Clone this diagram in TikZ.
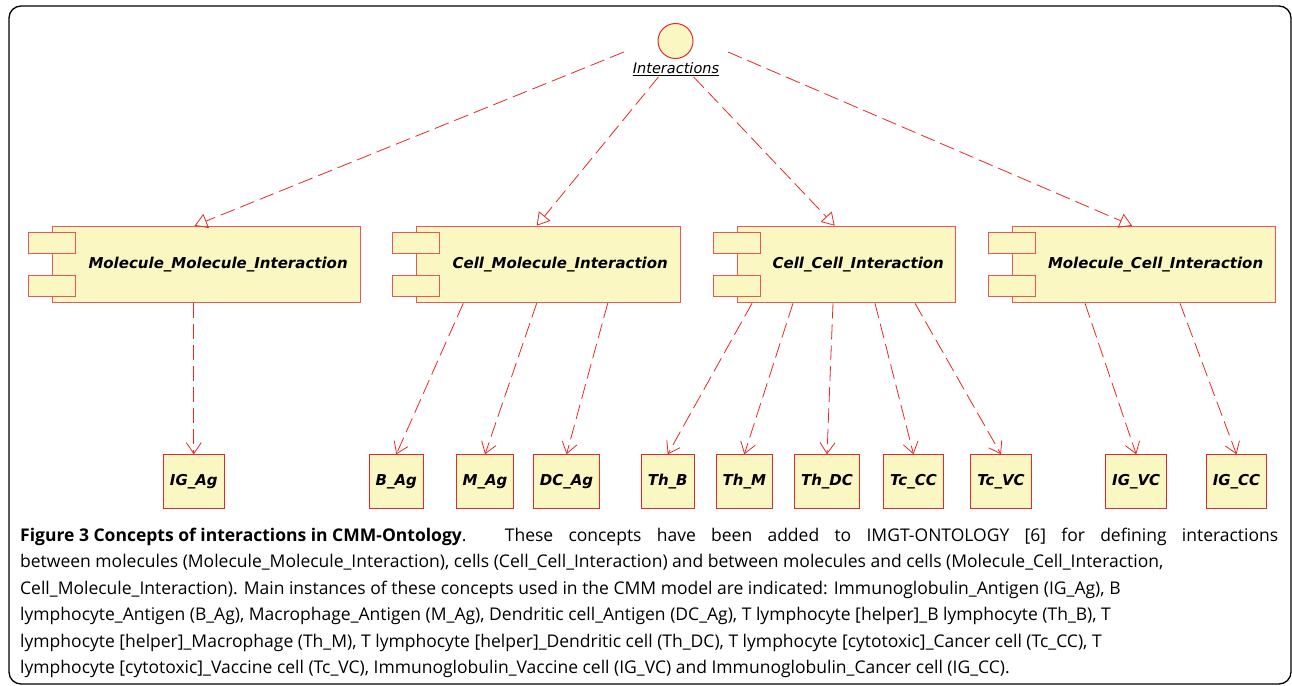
\documentclass[tikz,border=0pt]{standalone}
\usepackage{fontspec}
\setmainfont{Open Sans}
\newfontfamily\umlfont{DejaVu Sans}
\usetikzlibrary{arrows.meta, positioning, calc}
\definecolor{umlfill}{RGB}{250,247,195}
\definecolor{umlline}{RGB}{236,86,86}
\definecolor{umlred}{RGB}{232,40,40}

\begin{document}
\begin{tikzpicture}[x=1pt, y=-1pt,
  comp/.style={draw=umlline, fill=umlfill, line width=1pt, minimum height=76.6pt, anchor=north west, inner sep=0pt, font=\umlfont\bfseries\itshape\fontsize{15}{18}\selectfont},
  tab/.style={draw=umlline, fill=umlfill, line width=1pt},
  inst/.style={draw=umlred, fill=umlfill, line width=1pt, minimum height=54pt, inner xsep=6.5pt, anchor=north, font=\umlfont\bfseries\itshape\fontsize{15}{18}\selectfont},
  dep/.style={draw=umlred, line width=0.8pt, dash pattern=on 15pt off 6pt},
  real/.style={dep, -{Triangle[open, length=12.5pt, width=15pt]}},
  use/.style={dep, -{Straight Barb[length=11pt, width=15pt]}}]
\useasboundingbox (0,0) rectangle (1292,685);
\draw[line width=1.3pt, rounded corners=12pt] (9,6) rectangle (1291,684);

% interface
\node[circle, draw=umlred, fill=umlfill, line width=1pt, minimum size=35pt, inner sep=0pt] (intr) at (675.5,41) {};
\node[font=\umlfont\itshape\fontsize{14.5}{17}\selectfont, inner sep=1pt] (intrlbl) at (676,69) {\underline{Interactions}};

% components
\node[comp, minimum width=308.3pt] (mmi) at (51.7,225.7) {\hspace*{23.5pt}Molecule\_Molecule\_Interaction};
\node[comp, minimum width=264pt] (cmi) at (416,225.7) {\hspace*{23.5pt}Cell\_Molecule\_Interaction};
\node[comp, minimum width=218pt] (cci) at (737,225.7) {\hspace*{23.5pt}Cell\_Cell\_Interaction};
\node[comp, minimum width=263.3pt] (mci) at (1011.7,225.7) {\hspace*{23.5pt}Molecule\_Cell\_Interaction};
\foreach \c in {mmi,cmi,cci,mci}{
  \draw[tab] ($(\c.north west)+(-23.5,7)$) rectangle ++(47,21);
  \draw[tab] ($(\c.south west)+(-23.5,-7)$) rectangle ++(47,-21);
}

% instances
\node[inst] (igag) at (193.8,454.3) {IG\_Ag};
\node[inst] (bag) at (396.3,454.3) {B\_Ag};
\node[inst] (mag) at (485,454.3) {M\_Ag};
\node[inst] (dcag) at (566.5,454.3) {DC\_Ag};
\node[inst] (thb) at (667.7,454.3) {Th\_B};
\node[inst] (thm) at (744.3,454.3) {Th\_M};
\node[inst] (thdc) at (827,454.3) {Th\_DC};
\node[inst] (tccc) at (913.5,454.3) {Tc\_CC};
\node[inst] (tcvc) at (1001,454.3) {Tc\_VC};
\node[inst] (igvc) at (1136.2,454.3) {IG\_VC};
\node[inst] (igcc) at (1236.5,454.3) {IG\_CC};

% realizations
\draw[real] ([shift={(-51.5,11)}]intr.center) -- ([xshift=-11.75pt]mmi.north);
\draw[real] ([xshift=-17.5pt]intrlbl.south) -- ([xshift=-11.75pt]cmi.north);
\draw[real] ([xshift=17.5pt]intrlbl.south) -- ([xshift=-11.75pt]cci.north);
\draw[real] ([shift={(52.5,11)}]intr.center) -- ([xshift=-11.75pt]mci.north);

% dependencies
\draw[use] (igag.north |- mmi.south) -- (igag.north);
\draw[use] ([xshift=47.3pt]cmi.south west) -- (bag.north);
\draw[use] ([xshift=120.7pt]cmi.south west) -- (mag.north);
\draw[use] ([xshift=191.7pt]cmi.south west) -- (dcag.north);
\draw[use] ([xshift=15pt]cci.south west) -- (thb.north);
\draw[use] ([xshift=56pt]cci.south west) -- (thm.north);
\draw[use] ([xshift=96pt]cci.south west) -- (thdc.north);
\draw[use] ([xshift=138pt]cci.south west) -- (tccc.north);
\draw[use] ([xshift=178pt]cci.south west) -- (tcvc.north);
\draw[use] ([xshift=73.3pt]mci.south west) -- (igvc.north);
\draw[use] ([xshift=168.3pt]mci.south west) -- (igcc.north);

% caption
\node[anchor=base west, align=left, inner sep=0pt, font=\fontsize{17.5}{26.5}\selectfont] (capt) at (20,673.5)
{\makebox[1258pt][s]{\mbox{\textbf{Figure 3 Concepts of interactions in CMM-Ontology}}. These concepts have been added to IMGT-ONTOLOGY [6] for defining interactions}\\
between molecules (Molecule\_Molecule\_Interaction), cells (Cell\_Cell\_Interaction) and between molecules and cells (Molecule\_Cell\_Interaction,\\
Cell\_Molecule\_Interaction). Main instances of these concepts used in the CMM model are indicated: Immunoglobulin\_Antigen (IG\_Ag), B\\
lymphocyte\_Antigen (B\_Ag), Macrophage\_Antigen (M\_Ag), Dendritic cell\_Antigen (DC\_Ag), T lymphocyte [helper]\_B lymphocyte (Th\_B), T\\
lymphocyte [helper]\_Macrophage (Th\_M), T lymphocyte [helper]\_Dendritic cell (Th\_DC), T lymphocyte [cytotoxic]\_Cancer cell (Tc\_CC), T\\
lymphocyte [cytotoxic]\_Vaccine cell (Tc\_VC), Immunoglobulin\_Vaccine cell (IG\_VC) and Immunoglobulin\_Cancer cell (IG\_CC).};
\end{tikzpicture}
\end{document}
